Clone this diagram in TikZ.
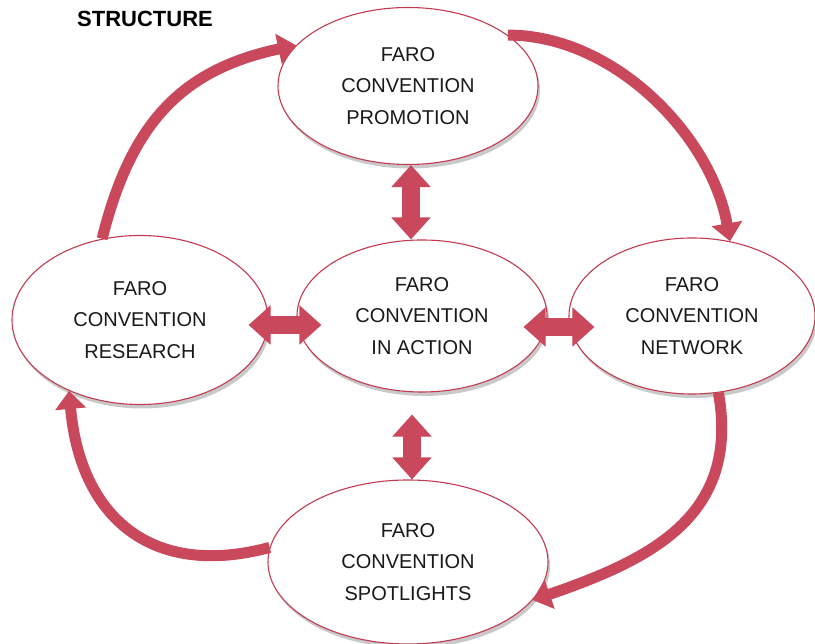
\documentclass[tikz,border=0pt]{standalone}
\usepackage{fontspec}
\setmainfont{Liberation Sans}
\usetikzlibrary{shapes.geometric,arrows.meta,shadows}
\definecolor{fred}{HTML}{C9485B}
\definecolor{fredline}{HTML}{C23B51}
\begin{document}
\begin{tikzpicture}[x=1pt,y=1pt,
  bubble/.style={ellipse, draw=fredline, line width=1.1pt, fill=white, inner sep=0pt,
    align=center, text=black!90, font=\fontsize{20}{31.5}\selectfont,
    drop shadow={shadow xshift=2pt, shadow yshift=-4pt, opacity=0.3, fill=black!70}},
  dbl/.style={draw=fred, line width=18pt,
    {Triangle[length=22pt,width=38pt]}-{Triangle[length=22pt,width=38pt]}},
  curv/.style={draw=fred, line width=11pt, -{Triangle[length=18pt,width=30pt]}}
]
\useasboundingbox (0,0) rectangle (815,644);
\node[font=\bfseries\fontsize{22}{26}\selectfont] (title) at (145,625) {STRUCTURE};

\node[bubble, minimum width=260pt, minimum height=157pt] (promo) at (408,558) {FARO\\CONVENTION\\PROMOTION};
\node[bubble, minimum width=256pt, minimum height=169pt] (research) at (140,324) {FARO\\CONVENTION\\RESEARCH};
\node[bubble, minimum width=250pt, minimum height=152pt] (action) at (422,328) {FARO\\CONVENTION\\IN ACTION};
\node[bubble, minimum width=246pt, minimum height=156pt] (network) at (692,328) {FARO\\CONVENTION\\NETWORK};
\node[bubble, minimum width=280pt, minimum height=164pt] (spot) at (408,82) {FARO\\CONVENTION\\SPOTLIGHTS};

% double arrows
\draw[dbl] ([xshift=3pt]promo.south) -- ([xshift=-11pt]action.north);
\draw[dbl, shorten <=22pt] ([xshift=-10pt]action.south) -- ([xshift=4pt]spot.north);
\draw[dbl] ([shift={(-20pt,-5pt)}]research.east) -- ([shift={(25pt,-9pt)}]action.west);
\draw[dbl] ([shift={(-24pt,-11pt)}]action.east) -- ([shift={(26pt,-11pt)}]network.west);

% curved arrows
\draw[curv] (research.115) to[out=76,in=192,looseness=1.1] (promo.160);
\draw[curv] (promo.27) to[out=0,in=100,looseness=0.9] (network.63);
\draw[curv] (network.289) to[out=280,in=19,looseness=1.15] (spot.343);
\draw[curv] (spot.174) to[out=195,in=275,looseness=1.25] (research.225);
\end{tikzpicture}
\end{document}
